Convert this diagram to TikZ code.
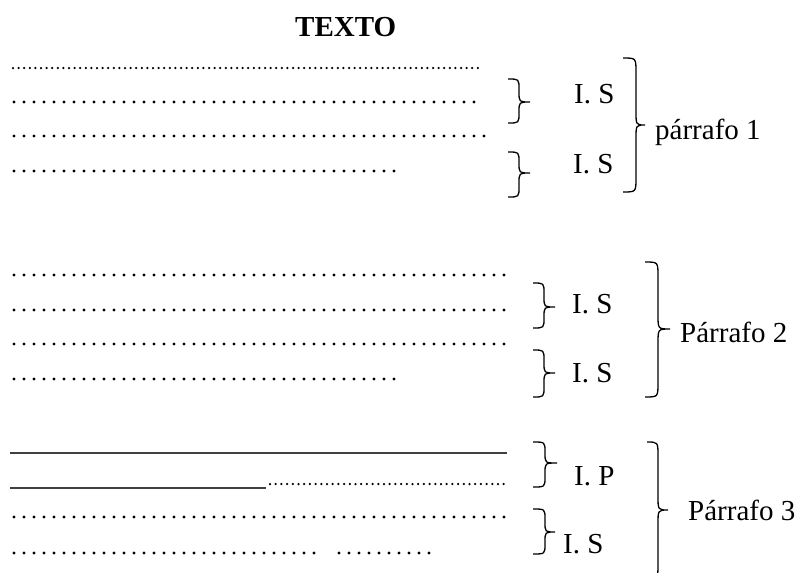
\documentclass[tikz,border=0pt]{standalone}
\usepackage{fontspec}
\setmainfont{Liberation Serif}
\tikzset{
  uline/.style={line width=2.4pt, black!75},
  bracepath/.style={line width=1.3pt},
  lbl/.style={inner sep=0pt, anchor=base west, font=\fontsize{29}{34}\selectfont},
}
\newcommand\dotrow[5]{% x1 x2 y spacing radius
  \pgfmathtruncatemacro\nd{(#2-#1)/#4}%
  \foreach \i in {0,...,\nd} \fill (#1+\i*#4,#3) circle (#5);}
\newcommand\myrbrace[7]{% x0 xs xt y1 ym y2 r
  \draw[bracepath] (#1,#4) .. controls (#2,#4) .. (#2,#4+#7) -- (#2,#5-#7)
    .. controls (#2,#5) .. (#3,#5) .. controls (#2,#5) .. (#2,#5+#7)
    -- (#2,#6-#7) .. controls (#2,#6) .. (#1,#6);}
\begin{document}
\begin{tikzpicture}[x=1pt,y=-1pt]
\useasboundingbox (0,0) rectangle (801,573);
% title
\node[lbl, font=\fontsize{29}{34}\selectfont\bfseries] (title) at (295,36) {TEXTO};
% paragraph 1 lines
\dotrow{13}{483}{68}{5.6}{1.25pt}
\dotrow{14}{476}{102}{10}{1.6pt}
\dotrow{14}{489}{136}{10}{1.6pt}
\dotrow{14}{399}{171}{10}{1.6pt}
% paragraph 2 lines
\dotrow{14}{504}{275}{10}{1.6pt}
\dotrow{14}{504}{310}{10}{1.6pt}
\dotrow{14}{504}{344}{10}{1.6pt}
\dotrow{14}{399}{379}{10}{1.6pt}
% paragraph 3 lines
\draw[uline] (10,453) -- (507,453);
\draw[uline] (10,488) -- (266,488);
\dotrow{270}{504}{484}{5.7}{1.25pt}
\dotrow{14}{504}{517}{10}{1.6pt}
\dotrow{14}{323}{553}{10}{1.6pt}
\dotrow{339}{429}{553}{10}{1.6pt}
% braces paragraph 1
\myrbrace{508}{519}{530}{79}{102}{123}{10}
\myrbrace{508}{519}{530}{152}{173}{197}{10}
\myrbrace{623}{636}{645}{58}{125}{192}{14}
% braces paragraph 2
\myrbrace{533}{544}{555}{283}{307}{328}{10}
\myrbrace{533}{544}{555}{350}{373}{397}{10}
\myrbrace{645}{658}{670}{262}{329}{397}{14}
% braces paragraph 3
\myrbrace{533}{545}{557}{442}{463}{487}{10}
\myrbrace{533}{545}{555}{509}{532}{554}{10}
\myrbrace{647}{658}{668}{442}{510}{578}{14}
% labels
\node[lbl] (is1) at (574,103) {I. S};
\node[lbl] (is2) at (573,173) {I. S};
\node[lbl] (p1) at (655,139) {párrafo 1};
\node[lbl] (is3) at (572,313) {I. S};
\node[lbl] (is4) at (572,382) {I. S};
\node[lbl] (p2) at (680,342) {Párrafo 2};
\node[lbl] (ip5) at (574,485) {I. P};
\node[lbl] (is6) at (563,553) {I. S};
\node[lbl] (p3) at (688,520) {Párrafo 3};
\end{tikzpicture}
\end{document}
